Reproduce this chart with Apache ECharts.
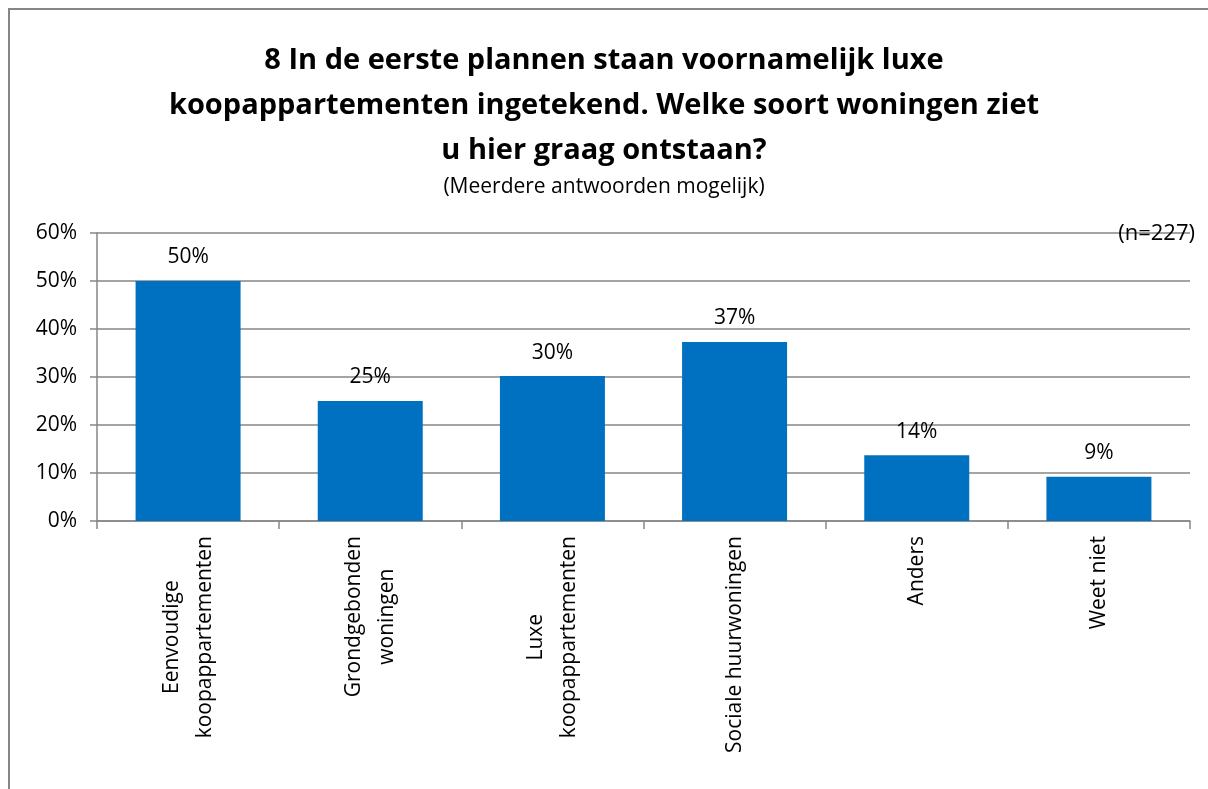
<!DOCTYPE html>
<html>
<head>
<meta charset="utf-8">
<script src="https://cdn.jsdelivr.net/npm/echarts@6/dist/echarts.min.js"></script>
<style>
  html, body { margin: 0; padding: 0; background: #fff; }
  #chart { width: 1208px; height: 789px; }
</style>
</head>
<body>
<div id="chart"></div>
<script>
// chart data
const categories = [
  ['Eenvoudige', 'koopappartementen'],
  ['Grondgebonden', 'woningen'],
  ['Luxe', 'koopappartementen'],
  ['Sociale huurwoningen'],
  ['Anders'],
  ['Weet niet']
];
const values = [50, 25, 30.2, 37.3, 13.7, 9.2];
const labels = ['50%', '25%', '30%', '37%', '14%', '9%'];
const yTicks = [0, 10, 20, 30, 40, 50, 60];

const FONT = '"Open Sans", "Noto Sans", sans-serif';
const GRID_COLOR = '#868686';

const chart = echarts.init(document.getElementById('chart'));

chart.setOption({
  animation: false,
  backgroundColor: '#fff',
  title: [
    {
      text: '8 In de eerste plannen staan voornamelijk luxe\nkoopappartementen ingetekend. Welke soort woningen ziet\nu hier graag ontstaan?',
      left: 'center',
      top: 33,
      textStyle: { fontFamily: FONT, fontSize: 29, fontWeight: 'bold', color: '#000', lineHeight: 45 }
    },
    {
      text: '(Meerdere antwoorden mogelijk)',
      left: 'center',
      top: 172,
      textStyle: { fontFamily: FONT, fontSize: 21, fontWeight: 'normal', color: '#000' }
    },
    {
      text: '(n=227)',
      right: 8,
      top: 218,
      textStyle: { fontFamily: FONT, fontSize: 22, fontWeight: 'normal', color: '#000' }
    }
  ],
  graphic: [{
    type: 'rect',
    shape: { x: 9, y: 9, width: 1220, height: 800 },
    style: { fill: 'none', stroke: GRID_COLOR, lineWidth: 2 },
    silent: true
  }],
  grid: { left: 97, right: 18, top: 233, bottom: 268, containLabel: false },
  xAxis: {
    type: 'category',
    data: categories.map(c => c.join('\n')),
    axisLine: { lineStyle: { color: GRID_COLOR, width: 1.5 } },
    axisTick: { show: true, length: 8, alignWithLabel: false, lineStyle: { color: GRID_COLOR, width: 1.5 } },
    axisLabel: {
      interval: 0,
      rotate: 90,
      margin: 15,
      color: '#000',
      fontFamily: FONT,
      fontSize: 21,
      lineHeight: 33,
      formatter: (v) => v.split('\n').map(s => '{c|' + s + '}').join('\n'),
      rich: { c: { align: 'center', fontFamily: FONT, fontSize: 21, color: '#000', lineHeight: 33 } }
    }
  },
  yAxis: {
    type: 'value',
    min: yTicks[0],
    max: yTicks[yTicks.length - 1],
    interval: 10,
    axisLine: { show: true, lineStyle: { color: GRID_COLOR, width: 1.5 } },
    axisTick: { show: true, length: 7, lineStyle: { color: GRID_COLOR, width: 1.5 } },
    axisLabel: { formatter: '{value}%', color: '#000', fontFamily: FONT, fontSize: 21, margin: 20 },
    splitLine: { lineStyle: { color: GRID_COLOR, width: 1.5 } }
  },
  series: [{
    type: 'bar',
    data: values,
    barWidth: 105,
    itemStyle: { color: '#0070C0' },
    label: {
      show: true,
      position: 'top',
      distance: 13,
      color: '#000',
      fontFamily: FONT,
      fontSize: 21,
      formatter: (p) => labels[p.dataIndex]
    }
  }]
});
</script>
</body>
</html>
